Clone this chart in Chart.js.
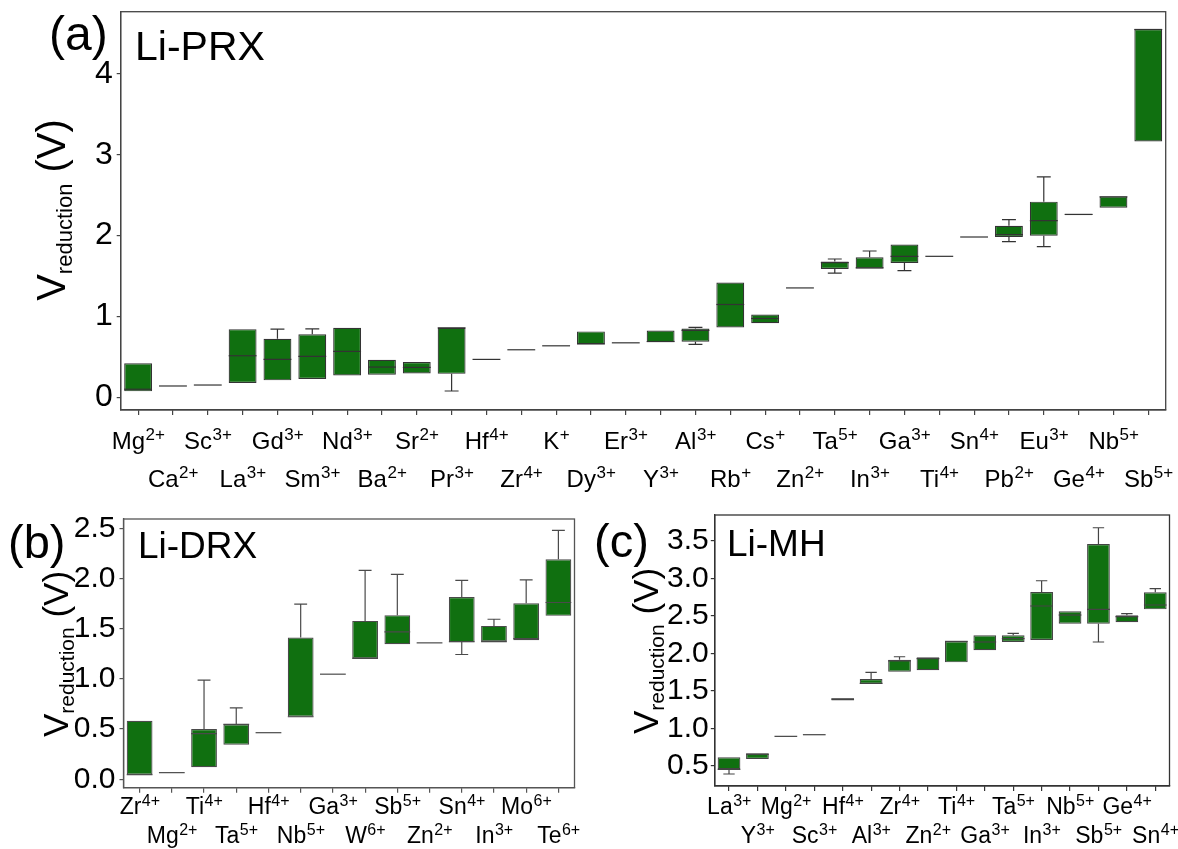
<!DOCTYPE html>
<html><head><meta charset="utf-8">
<script src="https://cdn.jsdelivr.net/npm/chart.js@4.4.1/dist/chart.umd.min.js"></script>
<style>
html,body{margin:0;padding:0;background:#fff;}
#wrap{position:relative;width:1178px;height:849px;overflow:hidden;}
canvas{position:absolute;}
</style></head>
<body><div id="wrap">
<canvas id="cA" width="1178" height="500" style="left:0;top:0"></canvas>
<canvas id="cB" width="590" height="349" style="left:0;top:500px"></canvas>
<canvas id="cC" width="588" height="349" style="left:590px;top:500px"></canvas>
</div>
<script>
// ---------- Panel (a) Li-PRX ----------
const catsA    = ['Mg','Ca','Sc','La','Gd','Sm','Nd','Ba','Sr','Pr','Hf','Zr','K','Dy','Er','Y','Al','Rb','Cs','Zn','Ta','In','Ga','Ti','Sn','Pb','Eu','Ge','Nb','Sb'];
const chargesA = ['2+','2+','3+','3+','3+','3+','3+','2+','2+','3+','4+','4+','+','3+','3+','3+','3+','+','+','2+','5+','3+','3+','4+','4+','2+','3+','4+','5+','5+'];
const q1A  = [0.074,0.14,0.152,0.177,0.21,0.226,0.27,0.28,0.296,0.29,0.469,0.588,0.637,0.658,0.674,0.683,0.687,0.864,0.917,1.353,1.588,1.592,1.662,1.744,1.983,1.983,2.0,2.255,2.346,3.164];
const medA = [0.10,0.14,0.152,0.514,0.469,0.506,0.568,0.374,0.37,0.86,0.469,0.588,0.637,0.66,0.674,0.69,0.827,1.148,0.975,1.353,1.667,1.60,1.744,1.744,1.983,2.012,2.185,2.262,2.48,4.55];
const q3A  = [0.42,0.14,0.152,0.843,0.724,0.78,0.86,0.464,0.436,0.86,0.469,0.588,0.637,0.815,0.674,0.827,0.852,1.42,1.025,1.353,1.679,1.732,1.889,1.744,1.983,2.123,2.42,2.27,2.485,4.555];
const wloA = [0.074,0.14,0.152,0.177,0.21,0.226,0.27,0.28,0.296,0.078,0.469,0.588,0.637,0.658,0.674,0.683,0.654,0.864,0.917,1.353,1.535,1.592,1.568,1.744,1.983,1.926,1.864,2.255,2.346,3.164];
const whiA = [0.42,0.14,0.152,0.843,0.843,0.847,0.86,0.464,0.436,0.86,0.469,0.588,0.637,0.815,0.674,0.827,0.864,1.42,1.025,1.353,1.711,1.81,1.889,1.744,1.983,2.197,2.728,2.27,2.485,4.555];
const yTicksA = [0,1,2,3,4];

// ---------- Panel (b) Li-DRX ----------
const catsB    = ['Zr','Mg','Ti','Ta','Hf','Nb','Ga','W','Sb','Zn','Sn','In','Mo','Te'];
const chargesB = ['4+','2+','4+','5+','4+','5+','3+','6+','5+','2+','4+','3+','6+','6+'];
const q1B  = [0.046,0.066,0.119,0.344,0.464,0.623,1.047,1.204,1.346,1.359,1.366,1.372,1.385,1.628];
const medB = [0.046,0.066,0.454,0.547,0.464,0.623,1.047,1.204,1.469,1.359,1.37,1.372,1.402,1.761];
const q3B  = [0.583,0.066,0.5,0.547,0.464,1.413,1.047,1.578,1.635,1.359,1.816,1.528,1.754,2.192];
const wloB = [0.046,0.066,0.119,0.344,0.464,0.623,1.047,1.204,1.346,1.359,1.243,1.372,1.385,1.628];
const whiB = [0.583,0.066,0.988,0.712,0.464,1.744,1.047,2.082,2.042,1.359,1.982,1.594,1.986,2.48];
const yTicksB = [0,0.5,1,1.5,2,2.5];

// ---------- Panel (c) Li-MH ----------
const catsC    = ['La','Y','Mg','Sc','Hf','Al','Zr','Zn','Ti','Ga','Ta','In','Nb','Sb','Ge','Sn'];
const chargesC = ['3+','3+','2+','3+','4+','3+','4+','2+','4+','3+','5+','3+','5+','5+','4+','4+'];
const q1C  = [0.452,0.589,0.892,0.914,1.37,1.591,1.755,1.774,1.88,2.041,2.152,2.178,2.396,2.396,2.415,2.588];
const medC = [0.452,0.652,0.892,0.914,1.39,1.60,1.90,1.93,2.16,2.152,2.196,2.633,2.512,2.588,2.49,2.646];
const q3C  = [0.612,0.665,0.892,0.914,1.40,1.658,1.915,1.947,2.161,2.241,2.241,2.819,2.561,3.46,2.508,2.815];
const wloC = [0.389,0.589,0.892,0.914,1.37,1.591,1.755,1.774,1.88,2.041,2.152,2.178,2.396,2.152,2.415,2.588];
const whiC = [0.612,0.665,0.892,0.914,1.40,1.747,1.955,1.947,2.161,2.241,2.268,2.97,2.561,3.678,2.53,2.864];
const yTicksC = [0.5,1,1.5,2,2.5,3,3.5];

const FONT = '"Liberation Sans", Arial, Helvetica, sans-serif';
const FILL = '#107010';

function makePanel(id, o) {
  const plugin = {
    id: 'boxpanel',
    afterDatasetsDraw(chart) {
      const ctx = chart.ctx, ys = chart.scales.y;
      const meta = chart.getDatasetMeta(0);
      ctx.save();
      ctx.strokeStyle = o.edge; ctx.lineWidth = 1.2; ctx.lineCap = 'butt';
      meta.data.forEach((el, i) => {
        const x = el.x, w = el.width;
        const pq1 = ys.getPixelForValue(o.q1[i]), pq3 = ys.getPixelForValue(o.q3[i]);
        const plo = ys.getPixelForValue(o.wlo[i]), phi = ys.getPixelForValue(o.whi[i]);
        const pm = ys.getPixelForValue(o.med[i]);
        ctx.beginPath();
        if (o.whi[i] > o.q3[i]) { ctx.moveTo(x, pq3); ctx.lineTo(x, phi); ctx.moveTo(x - w/4, phi); ctx.lineTo(x + w/4, phi); }
        if (o.wlo[i] < o.q1[i]) { ctx.moveTo(x, pq1); ctx.lineTo(x, plo); ctx.moveTo(x - w/4, plo); ctx.lineTo(x + w/4, plo); }
        ctx.moveTo(x - w/2, pm); ctx.lineTo(x + w/2, pm);
        ctx.stroke();
      });
      const a = chart.chartArea;
      ctx.strokeStyle = o.frame; ctx.lineWidth = 1.3;
      ctx.strokeRect(a.left, a.top, a.right - a.left, a.bottom - a.top);
      ctx.restore();
    },
    afterDraw(chart) {
      const ctx = chart.ctx, xs = chart.scales.x;
      ctx.save();
      ctx.fillStyle = '#000';
      ctx.textBaseline = 'alphabetic';
      ctx.textAlign = 'left';
      o.cats.forEach((c, i) => {
        const x = xs.getPixelForTick(i);
        ctx.font = o.lab + 'px ' + FONT; const wb = ctx.measureText(c).width;
        ctx.font = o.sup + 'px ' + FONT; const ws = ctx.measureText(o.charges[i]).width;
        const x0 = x - (wb + ws) / 2;
        const yb = (i % 2 === 0) ? o.row1 : o.row2;
        ctx.font = o.lab + 'px ' + FONT; ctx.fillText(c, x0, yb);
        ctx.font = o.sup + 'px ' + FONT; ctx.fillText(o.charges[i], x0 + wb + 0.5, yb - o.rise);
      });
      ctx.font = o.letterSize + 'px ' + FONT; ctx.fillText(o.letter, o.letterX, o.letterY);
      ctx.font = o.titleSize + 'px ' + FONT; ctx.fillText(o.title, o.titleX, o.titleY);
      ctx.translate(o.ytX, o.ytY); ctx.rotate(-Math.PI / 2);
      ctx.font = o.ytMain + 'px ' + FONT; const wV = ctx.measureText('V').width; const wP = ctx.measureText(' (V)').width;
      ctx.font = o.ytSub + 'px ' + FONT; const wS = ctx.measureText('reduction').width;
      let x0 = -(wV + wS + wP) / 2;
      ctx.font = o.ytMain + 'px ' + FONT; ctx.fillText('V', x0, 0);
      ctx.font = o.ytSub + 'px ' + FONT; ctx.fillText('reduction', x0 + wV, o.ytShift);
      ctx.font = o.ytMain + 'px ' + FONT; ctx.fillText(' (V)', x0 + wV + wS, 0);
      ctx.restore();
    }
  };
  return new Chart(document.getElementById(id), {
    type: 'bar',
    data: {
      labels: o.cats.map((c, i) => c + o.charges[i]),
      datasets: [{
        data: o.q1.map((v, i) => [v, o.q3[i]]),
        backgroundColor: FILL,
        borderColor: o.edge,
        borderWidth: 1.2,
        borderSkipped: false,
        barPercentage: 0.8,
        categoryPercentage: 1.0
      }]
    },
    options: {
      responsive: false, animation: false, devicePixelRatio: 1,
      layout: { padding: o.pad },
      plugins: { legend: { display: false }, tooltip: { enabled: false } },
      scales: {
        x: {
          type: 'category', offset: true,
          grid: { display: true, drawOnChartArea: false, drawTicks: true, tickLength: 5, color: o.frame, lineWidth: 1.2, offset: false },
          border: { display: true, color: o.frame, width: 1.3 },
          ticks: { display: false },
          afterFit(s) { s.height = o.xH; s.paddingLeft = 0; s.paddingRight = 0; s.paddingTop = 0; s.paddingBottom = 0; }
        },
        y: {
          min: o.ymin, max: o.ymax,
          grid: { display: true, drawOnChartArea: false, drawTicks: true, tickLength: 4, color: o.frame, lineWidth: 1.2 },
          border: { display: true, color: o.frame, width: 1.3 },
          ticks: { color: '#000', padding: o.tickPad, font: { family: FONT, size: o.yFont },
                   callback: (v) => Number(v).toFixed(o.dec) },
          afterBuildTicks(s) { s.ticks = o.yTicks.map(v => ({ value: v })); },
          afterFit(s) { s.width = o.yW; s.paddingTop = 0; s.paddingBottom = 0; s.paddingLeft = 0; s.paddingRight = 0; }
        }
      }
    },
    plugins: [plugin]
  });
}

makePanel('cA', {
  cats: catsA, charges: chargesA, q1: q1A, med: medA, q3: q3A, wlo: wloA, whi: whiA, yTicks: yTicksA,
  ymin: -0.157, ymax: 4.77, dec: 0, yFont: 32, tickPad: 4,
  pad: { top: 11.7, right: 12.3, left: 0, bottom: 0 }, yW: 120.7, xH: 90,
  edge: '#333333', frame: '#444444',
  lab: 24, sup: 17, rise: 9, row1: 449, row2: 487,
  letter: '(a)', letterSize: 48, letterX: 49, letterY: 50,
  title: 'Li-PRX', titleSize: 41, titleX: 135, titleY: 60,
  ytX: 65, ytY: 210, ytMain: 40, ytSub: 22, ytShift: 7
});
makePanel('cB', {
  cats: catsB, charges: chargesB, q1: q1B, med: medB, q3: q3B, wlo: wloB, whi: whiB, yTicks: yTicksB,
  ymin: -0.084, ymax: 2.593, dec: 1, yFont: 30, tickPad: 4,
  pad: { top: 19, right: 15.5, left: 0, bottom: 0 }, yW: 123.5, xH: 61.3,
  edge: '#4a4a4a', frame: '#555555',
  lab: 23, sup: 16, rise: 8, row1: 314, row2: 343,
  letter: '(b)', letterSize: 47, letterX: 8, letterY: 58,
  title: 'Li-DRX', titleSize: 37, titleX: 138, titleY: 58.3,
  ytX: 68, ytY: 154, ytMain: 35, ytSub: 21, ytShift: 6
});
makePanel('cC', {
  cats: catsC, charges: chargesC, q1: q1C, med: medC, q3: q3C, wlo: wloC, whi: whiC, yTicks: yTicksC,
  ymin: 0.229, ymax: 3.848, dec: 1, yFont: 30, tickPad: 2,
  pad: { top: 15, right: 8.5, left: 0, bottom: 0 }, yW: 124.8, xH: 63,
  edge: '#444444', frame: '#333333',
  lab: 23, sup: 16, rise: 8, row1: 314, row2: 343,
  letter: '(c)', letterSize: 47, letterX: 4, letterY: 57,
  title: 'Li-MH', titleSize: 37, titleX: 137, titleY: 55.7,
  ytX: 68, ytY: 151, ytMain: 35, ytSub: 21, ytShift: 6
});
</script>
</body></html>
